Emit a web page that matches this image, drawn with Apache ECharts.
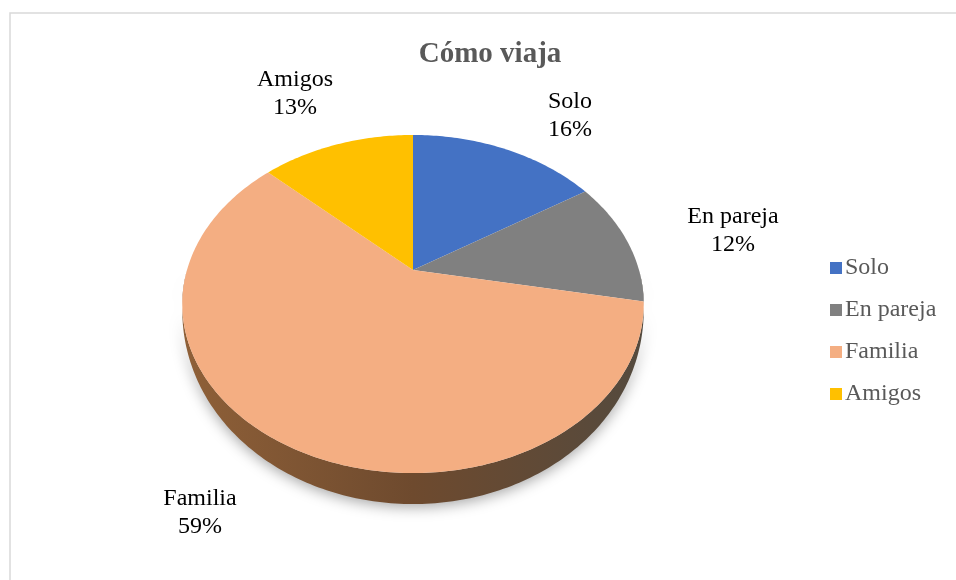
<!DOCTYPE html>
<html>
<head>
	<meta charset="utf-8"/>
	<title>Cómo viaja</title>
</head>
<body style="margin: 0; background: #fff;">

	<div id="chart" style="width: 956px; height: 580px;"></div>

	<script src="https://cdn.jsdelivr.net/npm/echarts@6/dist/echarts.min.js"></script>
	<script>

		var titleText = 'Cómo viaja';
		var categories = ['Solo', 'En pareja', 'Familia', 'Amigos'];
		var percents = [16, 12, 59, 13];
		var colors = ['#4472c4', '#808080', '#f4ae82', '#ffc000'];

		var serif = '"Liberation Serif", "Times New Roman", serif';
		// centre of each outside label
		var labelAt = [[570, 116], [733, 231], [200, 513], [295, 94]];

		// tilted pie: circle projected with perspective, (cx, cy) is the apex of the slices
		var cx = 413, cy = 270, rx = 226, ry = 162.2, persp = 0.2012, depth = 31;

		function rim (pct, dy) {
			var a = pct / 100 * Math.PI * 2;
			var u = Math.sin(a), v = Math.cos(a);
			var d = 1 + persp * v;
			return [cx + rx * u / d, cy - ry * v / d + (dy || 0) * -v];
		}

		function slice (params, api) {
			var start = api.value(0), end = api.value(1);
			var i = params.seriesIndex - 1;
			var points = [[cx, cy]];
			for (var p = start; p < end; p += 0.25) {
				points.push(rim(p));
			}
			points.push(rim(end));
			return {
				type: 'group',
				children: [
					{
						type: 'polygon',
						shape: { points: points },
						style: { fill: colors[i] }
					},
					{
						type: 'text',
						x: labelAt[i][0],
						y: labelAt[i][1],
						style: {
							text: categories[i] + '\n' + percents[i] + '%',
							fontFamily: serif,
							fontSize: 24,
							lineHeight: 28,
							fill: '#000',
							align: 'center',
							verticalAlign: 'middle'
						}
					}
				]
			};
		}

		// the rim below the top face, it tapers away towards left and right
		function side () {
			var points = [], p;
			for (p = 25; p <= 75; p += 0.25) {
				points.push(rim(p));
			}
			for (p = 75; p >= 25; p -= 0.25) {
				points.push(rim(p, depth));
			}
			return {
				type: 'polygon',
				shape: { points: points },
				style: {
					fill: new echarts.graphic.LinearGradient(0, 0, 1, 0, [
						{ offset: 0, color: '#8f6038' },
						{ offset: 0.5, color: '#6e4a2e' },
						{ offset: 1, color: '#544a3e' }
					]),
					shadowBlur: 14,
					shadowOffsetY: 3,
					shadowColor: 'rgba(0, 0, 0, 0.35)'
				}
			};
		}

		var series = [{
			type: 'custom',
			name: 'Lado',
			coordinateSystem: 'none',
			silent: true,
			data: [[0]],
			renderItem: side
		}];

		var sum = 0;
		for (var i = 0; i < categories.length; i++) {
			series.push({
				type: 'custom',
				name: categories[i],
				coordinateSystem: 'none',
				itemStyle: { color: colors[i] },
				data: [[sum, sum + percents[i]]],
				renderItem: slice
			});
			sum += percents[i];
		}

		var option = {
			animation: false,
			backgroundColor: '#fff',
			title: {
				text: titleText,
				left: 485,
				top: 35,
				textAlign: 'center',
				textStyle: {
					fontFamily: serif,
					fontSize: 29,
					fontWeight: 'bold',
					color: '#595959'
				}
			},
			legend: {
				data: categories,
				orient: 'vertical',
				left: 830,
				top: 255,
				icon: 'rect',
				itemWidth: 12,
				itemHeight: 12,
				itemGap: 16,
				padding: 0,
				selectedMode: false,
				textStyle: {
					fontFamily: serif,
					fontSize: 24,
					color: '#595959',
					padding: [0, 0, 0, -2],
					lineHeight: 26
				}
			},
			graphic: [
				{
					type: 'polyline',
					shape: { points: [[10, 580], [10, 13], [956, 13]] },
					style: { stroke: '#d9d9d9', lineWidth: 1.5, fill: null }
				}
			],
			series: series
		};

		var myChart = echarts.init(document.getElementById('chart'));
		myChart.setOption(option);

	</script>
</body>
</html>
